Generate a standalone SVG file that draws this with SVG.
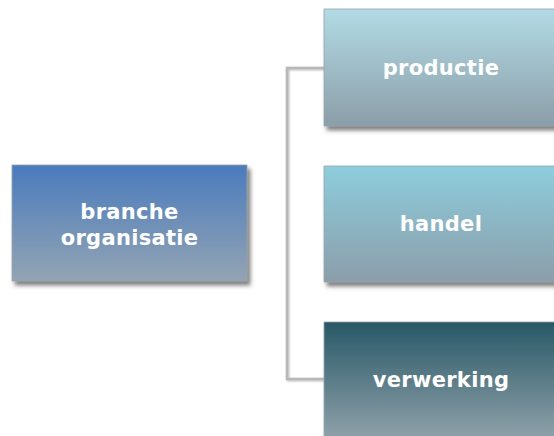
<svg xmlns="http://www.w3.org/2000/svg" width="554" height="436" viewBox="0 0 554 436">
<defs>
<linearGradient id="gRoot" x1="0" y1="0" x2="0" y2="1"><stop offset="0" stop-color="#4a7bbd"/><stop offset="1" stop-color="#93a4b3"/></linearGradient>
<linearGradient id="gProd" x1="0" y1="0" x2="0" y2="1"><stop offset="0" stop-color="#b2dbe5"/><stop offset="1" stop-color="#8b9ea9"/></linearGradient>
<linearGradient id="gHand" x1="0" y1="0" x2="0" y2="1"><stop offset="0" stop-color="#8ecddc"/><stop offset="1" stop-color="#8b9daa"/></linearGradient>
<linearGradient id="gVerw" x1="0" y1="0" x2="0" y2="1"><stop offset="0" stop-color="#285866"/><stop offset="1" stop-color="#90a2ab"/></linearGradient>
<filter id="sh" x="-10%" y="-10%" width="130%" height="130%"><feDropShadow dx="3" dy="4" stdDeviation="2" flood-color="#444" flood-opacity="0.7"/></filter>
<filter id="lsh" x="-10%" y="-10%" width="130%" height="130%"><feDropShadow dx="1" dy="1" stdDeviation="0.8" flood-color="#888" flood-opacity="0.6"/></filter>
</defs>
<style>
.box{stroke:#9aa4ab;stroke-width:0.8;filter:url(#sh)}
.lbl{font-family:"DejaVu Sans",Verdana,sans-serif;font-weight:bold;font-size:21px;letter-spacing:0.3px;fill:#ffffff;text-anchor:middle}
.con{fill:none;stroke:#b8b8b8;stroke-width:2.5;filter:url(#lsh)}
</style>
<rect width="554" height="436" fill="#ffffff"/>
<g id="connectors">
<path class="con" d="M247 224 H324"/>
<path class="con" d="M324 68 H287 V379 H324"/>
</g>
<g id="node-root">
<rect class="box" x="12" y="165" width="235" height="116" fill="url(#gRoot)"/>
<text class="lbl" x="129.5" y="219">branche</text>
<text class="lbl" x="129.5" y="245">organisatie</text>
</g>
<g id="node-productie">
<rect class="box" x="324" y="9" width="235" height="117" fill="url(#gProd)"/>
<text class="lbl" x="441" y="75">productie</text>
</g>
<g id="node-handel">
<rect class="box" x="324" y="166" width="235" height="116" fill="url(#gHand)"/>
<text class="lbl" x="441" y="231">handel</text>
</g>
<g id="node-verwerking">
<rect class="box" x="324" y="322" width="235" height="118" fill="url(#gVerw)"/>
<text class="lbl" x="441" y="387">verwerking</text>
</g>
</svg>
